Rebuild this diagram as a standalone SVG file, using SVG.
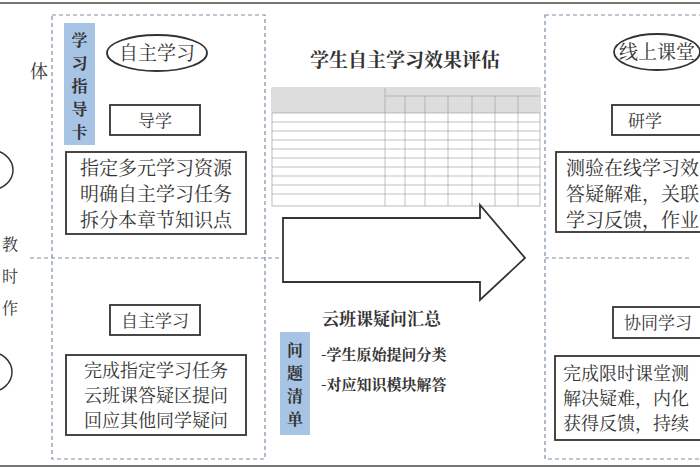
<svg xmlns="http://www.w3.org/2000/svg" width="700" height="470" viewBox="0 0 700 470">
<style>
.cn{font-family:"Noto Serif CJK SC","Liberation Serif","Noto Sans CJK SC",serif;fill:#333}
.dash{fill:none;stroke:#7a8fa8;stroke-width:1.2;stroke-dasharray:4,3}
.box{fill:#fff;stroke:#333;stroke-width:1.8}
.blue{fill:#a7c4e4}
.tl{stroke:#999;stroke-width:0.6}
</style>
<rect width="700" height="470" fill="#fff"/>
<line x1="0" y1="3" x2="700" y2="3" stroke="#777" stroke-width="2"/>
<line x1="0" y1="466" x2="700" y2="466" stroke="#777" stroke-width="2"/>
<g id="leftedge">
<text class="cn" x="30" y="78" font-size="18">体</text>
<ellipse cx="-10" cy="170" rx="23" ry="20" fill="none" stroke="#333" stroke-width="1.5"/>
<text class="cn" x="2" y="250" font-size="16">教</text>
<text class="cn" x="2" y="282" font-size="16">时</text>
<text class="cn" x="2" y="314" font-size="16">作</text>
<ellipse cx="-10" cy="372" rx="22" ry="20" fill="none" stroke="#333" stroke-width="1.5"/>
</g>
<g id="panels">
<rect class="dash" x="52" y="15" width="213" height="444"/>
<line class="dash" x1="30" y1="258" x2="285" y2="258"/>
<rect class="dash" x="545" y="15" width="170" height="444"/>
<line class="dash" x1="545" y1="258" x2="690" y2="258"/>
</g>
<g id="guide">
<rect class="blue" x="64" y="23" width="31" height="122"/>
<text class="cn" font-size="16" font-weight="bold" text-anchor="middle"><tspan x="79.5" y="46">学</tspan><tspan x="79.5" y="69">习</tspan><tspan x="79.5" y="92">指</tspan><tspan x="79.5" y="115">导</tspan><tspan x="79.5" y="138">卡</tspan></text>
</g>
<g id="self1">
<ellipse class="box" cx="157" cy="53" rx="50" ry="18"/>
<text class="cn" x="157" y="60" font-size="19" text-anchor="middle">自主学习</text>
</g>
<g id="daoxue">
<rect class="box" x="110" y="105" width="90" height="30"/>
<text class="cn" x="155" y="127" font-size="17" text-anchor="middle">导学</text>
</g>
<g id="text1">
<rect class="box" x="66" y="152" width="180" height="82"/>
<text class="cn" font-size="19" text-anchor="middle"><tspan x="156" y="175">指定多元学习资源</tspan><tspan x="156" y="201">明确自主学习任务</tspan><tspan x="156" y="227">拆分本章节知识点</tspan></text>
</g>
<g id="self2">
<rect class="box" x="110" y="305" width="90" height="30"/>
<text class="cn" x="155" y="327" font-size="17" text-anchor="middle">自主学习</text>
</g>
<g id="text2">
<rect class="box" x="66" y="355" width="180" height="80"/>
<text class="cn" font-size="18" text-anchor="middle"><tspan x="156" y="377">完成指定学习任务</tspan><tspan x="156" y="402">云班课答疑区提问</tspan><tspan x="156" y="427">回应其他同学疑问</tspan></text>
</g>
<g id="eval">
<text class="cn" x="405" y="67" font-size="19" font-weight="bold" text-anchor="middle">学生自主学习效果评估</text>
<rect x="272" y="88" width="268" height="118" fill="#fff" stroke="#aaa" stroke-width="0.8"/>
<rect x="272" y="88" width="268" height="25" fill="#ddd"/>
<line class="tl" x1="385" y1="88" x2="385" y2="206"/>
<line class="tl" x1="385" y1="96" x2="540" y2="96"/>
<line class="tl" x1="272" y1="113" x2="540" y2="113"/>
<g class="tl">
<line x1="272" y1="122" x2="540" y2="122"/><line x1="272" y1="131" x2="540" y2="131"/><line x1="272" y1="140" x2="540" y2="140"/><line x1="272" y1="149" x2="540" y2="149"/><line x1="272" y1="158" x2="540" y2="158"/><line x1="272" y1="167" x2="540" y2="167"/><line x1="272" y1="176" x2="540" y2="176"/><line x1="272" y1="185" x2="540" y2="185"/><line x1="272" y1="194" x2="540" y2="194"/>
<line x1="405" y1="96" x2="405" y2="206"/><line x1="425" y1="96" x2="425" y2="206"/><line x1="448" y1="96" x2="448" y2="206"/><line x1="472" y1="96" x2="472" y2="206"/><line x1="495" y1="96" x2="495" y2="206"/><line x1="518" y1="96" x2="518" y2="206"/>
</g>
</g>
<g id="connectors">
<path d="M283,218 H480 V205 L525,258 L480,300 V282 H283 Z" fill="#fff" stroke="#333" stroke-width="1.8"/>
</g>
<g id="questions">
<rect class="blue" x="280" y="332" width="30" height="103"/>
<text class="cn" font-size="16" font-weight="bold" text-anchor="middle"><tspan x="295" y="356">问</tspan><tspan x="295" y="379">题</tspan><tspan x="295" y="402">清</tspan><tspan x="295" y="425">单</tspan></text>
<text class="cn" x="322" y="325" font-size="17" font-weight="bold">云班课疑问汇总</text>
<text class="cn" x="321" y="360" font-size="15" font-weight="bold">-学生原始提问分类</text>
<text class="cn" x="321" y="390" font-size="15" font-weight="bold">-对应知识模块解答</text>
</g>
<g id="online">
<ellipse class="box" cx="657" cy="52" rx="43" ry="18"/>
<text class="cn" x="657" y="59" font-size="19" text-anchor="middle">线上课堂</text>
</g>
<g id="yanxue">
<rect class="box" x="612" y="105" width="100" height="30"/>
<text class="cn" x="645" y="127" font-size="17" text-anchor="middle">研学</text>
</g>
<g id="text3">
<rect class="box" x="556" y="152" width="160" height="80"/>
<text class="cn" font-size="19"><tspan x="566" y="175">测验在线学习效</tspan><tspan x="566" y="201">答疑解难，关联</tspan><tspan x="566" y="227">学习反馈，作业</tspan></text>
</g>
<g id="collab">
<rect class="box" x="613" y="307" width="100" height="31"/>
<text class="cn" x="624" y="329" font-size="17">协同学习</text>
</g>
<g id="text4">
<rect class="box" x="555" y="356" width="160" height="84"/>
<text class="cn" font-size="18"><tspan x="563" y="380">完成限时课堂测</tspan><tspan x="563" y="405">解决疑难，内化</tspan><tspan x="563" y="430">获得反馈，持续</tspan></text>
</g>
</svg>
